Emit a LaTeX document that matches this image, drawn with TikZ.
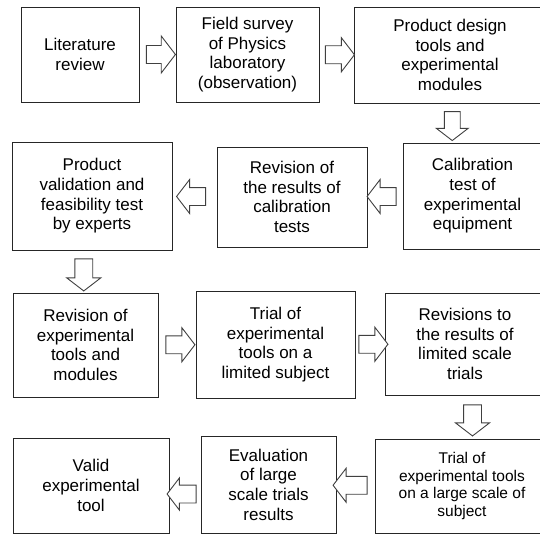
\documentclass[tikz,border=0pt]{standalone}
\usepackage{fontspec}
\setmainfont{Liberation Sans}
\usetikzlibrary{shapes.arrows,calc}

\tikzset{
  stage/.style={draw=black!85, line width=0.9pt, align=center, inner sep=2pt,
    font=\fontsize{17}{19.7}\selectfont},
  flow/.style={single arrow, draw=black!75, fill=white, line width=0.9pt,
    inner xsep=0pt, inner ysep=8.5pt, minimum height=29pt,
    single arrow head extend=8pt, single arrow tip angle=105},
}

\begin{document}
\begin{tikzpicture}[x=1pt,y=-1pt]

            \useasboundingbox (0,0) rectangle (540,535);

            % first row
            \node[stage, minimum width=118pt, minimum height=95pt] (lit) at (80,54.5)
            {Literature\\review};
            \node[stage, minimum width=143pt, minimum height=95pt] (survey) at (247.5,54.5)
            {Field survey\\of Physics\\laboratory\\(observation)};
            \node[stage, minimum width=192pt, minimum height=96pt] (design) at (450,55)
            {Product design\\tools and\\experimental\\modules};

            % second row, right to left
            \node[stage, minimum width=139pt, minimum height=106pt] (calib) at (472.5,196)
            {Calibration\\test of\\experimental\\equipment};
            \node[stage, minimum width=150pt, minimum height=100pt] (revcal) at (292,197)
            {Revision of\\the results of\\calibration\\tests};
            \node[stage, minimum width=160pt, minimum height=108pt] (expert) at (92,196)
            {Product\\validation and\\feasibility test\\by experts};

            % third row
            \node[stage, minimum width=145pt, minimum height=104pt] (revexp) at (85.5,345)
            {Revision of\\experimental\\tools and\\modules};
            \node[stage, minimum width=159pt, minimum height=107pt] (limited) at (275.5,344.5)
            {Trial of\\experimental\\tools on a\\limited subject};
            \node[stage, minimum width=160pt, minimum height=102pt] (revlim) at (465,344)
            {Revisions to\\the results of\\limited scale\\trials};

            % fourth row, right to left
            \node[stage, minimum width=174pt, minimum height=94pt,
            font=\fontsize{15.5}{17.5}\selectfont] (large) at (462,486)
            {Trial of\\experimental tools\\on a large scale of\\subject};
            \node[stage, minimum width=135pt, minimum height=97pt] (eval) at (268.5,484.5)
            {Evaluation\\of large\\scale trials\\results};
            \node[stage, minimum width=156pt, minimum height=95pt] (tool) at (91,485.5)
            {Valid\\experimental\\tool};

            % block arrows between the stages
            \node[flow, single arrow head extend=9.5pt] (a1) at ($(lit.east)!.5!(survey.west)$) {};
            \node[flow] (a2) at ($(survey.east)!.5!(design.west)$) {};
            \node[flow, xshift=-9pt, rotate=-90, inner ysep=7.5pt] (a3) at ($(design.south)!.5!(calib.north)$) {};
            \node[flow, rotate=180] (a4) at ($(calib.west)!.5!(revcal.east)$) {};
            \node[flow, rotate=180] (a5) at ($(revcal.west)!.5!(expert.east)$) {};
            \node[flow, xshift=-5pt, rotate=-90, minimum height=32pt] (a6) at ($(expert.south)!.5!(revexp.north)$) {};
            \node[flow] (a7) at ($(revexp.east)!.5!(limited.west)$) {};
            \node[flow] (a8) at ($(limited.east)!.5!(revlim.west)$) {};
            \node[flow, xshift=9pt, rotate=-90, minimum height=31pt] (a9) at ($(revlim.south)!.5!(large.north)$) {};
            \node[flow, xshift=-2pt, rotate=180, minimum height=34pt] (a10) at ($(large.west)!.5!(eval.east)$) {};
            \node[flow, yshift=-9pt, rotate=180, single arrow head extend=7pt] (a11) at ($(eval.west)!.5!(tool.east)$) {};
        \end{tikzpicture}
\end{document}
